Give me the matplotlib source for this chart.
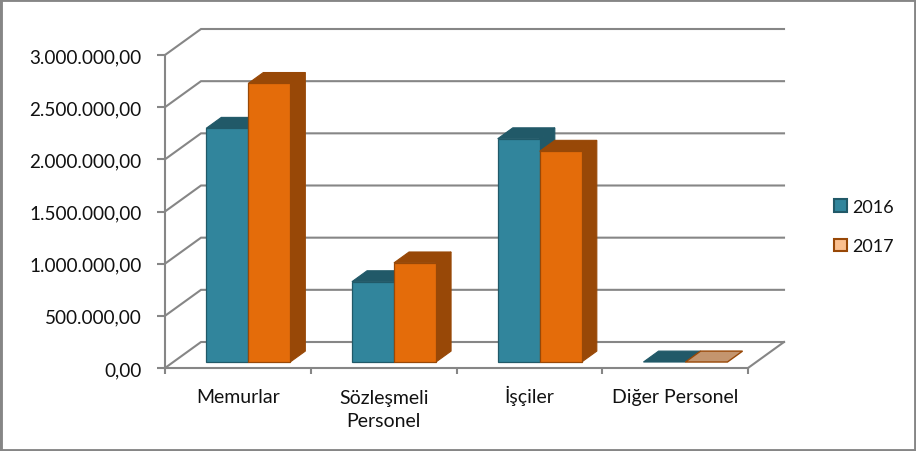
import matplotlib
matplotlib.use('Agg')
import matplotlib.pyplot as plt
from matplotlib.patches import Polygon, Patch, Rectangle

categories = ['Memurlar', 'Sözleşmeli\nPersonel', 'İşçiler', 'Diğer Personel']
values_2016 = [2240000, 770000, 2140000, 0]
values_2017 = [2670000, 950000, 2020000, 0]
ytick_values = [0, 500000, 1000000, 1500000, 2000000, 2500000, 3000000]
ytick_labels = ['0,00', '500.000,00', '1.000.000,00', '1.500.000,00',
                '2.000.000,00', '2.500.000,00', '3.000.000,00']

W, H = 916, 452
GREY = '#868686'
plt.rcParams['font.family'] = ['Lato', 'DejaVu Sans']

fig = plt.figure(figsize=(W / 100, H / 100), dpi=100)
ax = fig.add_axes([165 / W, 1 - 369 / H, 583 / W, 313 / H])
ax.set_xlim(0, 4)
ax.set_ylim(0, 3000000)

# depth of the fake 3d box, in data units
DX = 36 / 583 * 4
DY = 26 / 313 * 3000000


def proj(x, y, d):
    return (x + d * DX, y + d * DY)


def box(x0, x1, top, d0, d1, front, dark, edge):
    # top and side first, front last
    ax.add_patch(Polygon([proj(x0, top, d0), proj(x1, top, d0), proj(x1, top, d1), proj(x0, top, d1)],
                         fc=dark, ec=dark, lw=0.8, clip_on=False, zorder=3))
    if top > 0:
        ax.add_patch(Polygon([proj(x1, 0, d0), proj(x1, top, d0), proj(x1, top, d1), proj(x1, 0, d1)],
                             fc=dark, ec=dark, lw=0.8, clip_on=False, zorder=3))
        ax.add_patch(Polygon([proj(x0, 0, d0), proj(x1, 0, d0), proj(x1, top, d0), proj(x0, top, d0)],
                             fc=front, ec=edge, lw=0.9, clip_on=False, zorder=3))


# walls and floor
for v in ytick_values:
    ax.plot([0, DX, 4 + DX], [v, DY + v, DY + v], color=GREY, lw=1.5, clip_on=False, zorder=1,
            solid_joinstyle='miter')
ax.plot([4, 4 + DX], [0, DY], color=GREY, lw=1.5, clip_on=False, zorder=1)

bar_w = 42 / 583 * 4
d0, d1 = 0.23, 0.65
for i, (a, b) in enumerate(zip(values_2016, values_2017)):
    mid = i + 0.514
    if a > 0:
        box(mid - bar_w, mid, a, d0, d1, '#31859C', '#215968', '#215968')
    else:
        box(mid - bar_w, mid, a, d0, d1, '#215968', '#215968', '#215968')
    if b > 0:
        box(mid, mid + bar_w, b, d0, d1, '#E46C0A', '#984807', '#984807')
    else:
        ax.add_patch(Polygon([proj(mid, 0, d0), proj(mid + bar_w, 0, d0),
                              proj(mid + bar_w, 0, d1), proj(mid, 0, d1)],
                             fc='#C4956E', ec='#984807', lw=1, clip_on=False, zorder=3))

for s in ['top', 'right']:
    ax.spines[s].set_visible(False)
for s in ['left', 'bottom']:
    ax.spines[s].set_color(GREY)
    ax.spines[s].set_linewidth(1.5)
ax.patch.set_alpha(0)

ax.set_yticks(ytick_values, ytick_labels, fontsize=13.6, color='#111111')
ax.set_xticks(range(5), [''] * 5)
ax.set_xticks([i + 0.5 for i in range(4)], categories, minor=True, fontsize=14, color='#111111',
              linespacing=1.43, va='baseline')
ax.tick_params(axis='y', length=5.8, width=1.5, color=GREY, pad=11)
ax.tick_params(axis='x', which='major', length=4.5, width=1.5, color=GREY, direction='out')
ax.tick_params(axis='x', which='minor', length=0, pad=24.5)
# baseline sits on the last line, so the two line label needs more room
ax.xaxis.get_minor_ticks()[1].set_pad(41.8)

handles = [Patch(fc='#31859C', ec='#215968', lw=1.5, label='2016'),
           Patch(fc='#FBC08F', ec='#984807', lw=1.5, label='2017')]
fig.legend(handles=handles, loc='center left', bbox_to_anchor=(834 / W, 1 - 227.5 / H), frameon=False,
           fontsize=13, handlelength=0.7, handleheight=0.7, handletextpad=0.3,
           labelspacing=1.3, borderpad=0, borderaxespad=0, labelcolor='#111111')

# chart frame
fig.add_artist(Rectangle((0, 0), 1, 1, transform=fig.transFigure, fc='none', ec='#868686', lw=3.5))

fig.savefig('out.png', dpi=100)
